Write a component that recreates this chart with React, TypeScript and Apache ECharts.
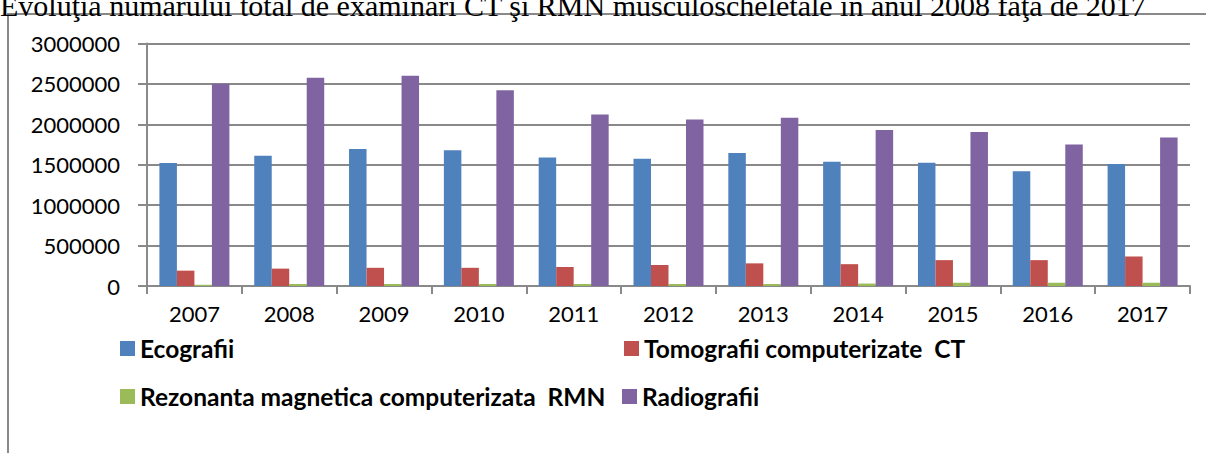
import React, { useEffect, useRef } from "react";
import * as echarts from "echarts";

const years = ["2007", "2008", "2009", "2010", "2011", "2012", "2013", "2014", "2015", "2016", "2017"];
const ecografii = [1520000, 1610000, 1695000, 1680000, 1590000, 1575000, 1645000, 1535000, 1525000, 1420000, 1510000];
const tomografii = [190000, 215000, 225000, 225000, 235000, 260000, 280000, 270000, 320000, 320000, 365000];
const rezonanta = [15000, 25000, 25000, 25000, 25000, 25000, 25000, 30000, 40000, 40000, 40000];
const radiografii = [2500000, 2575000, 2600000, 2420000, 2120000, 2060000, 2080000, 1930000, 1905000, 1750000, 1835000];

const seriesNames = [
  "Ecografii",
  "Tomografii computerizate  CT",
  "Rezonanta magnetica computerizata  RMN",
  "Radiografii",
];
const colors = ["#4F81BD", "#C0504D", "#9BBB59", "#8064A2"];
const titleText =
  "Evoluţia numărului total de examinări CT şi RMN musculoscheletale în anul 2008 faţa de 2017";

export default function App() {
  const ref = useRef<HTMLDivElement>(null);
  useEffect(() => {
    if (!ref.current) return;
    const chart = echarts.init(ref.current, null, { renderer: "svg" });
    const values = [ecografii, tomografii, rezonanta, radiografii];
    const legendPos = [
      { left: 120, top: 336 },
      { left: 624, top: 336 },
      { left: 120, top: 384 },
      { left: 622, top: 384 },
    ];
    chart.setOption({
      animation: false,
      backgroundColor: "#ffffff",
      color: colors,
      textStyle: { fontFamily: "Lato" },
      grid: { left: 147, right: 16, top: 43.4, bottom: 167, containLabel: false },
      legend: seriesNames.map((n, i) => ({
        data: [n],
        left: legendPos[i].left,
        top: legendPos[i].top,
        icon: "rect",
        itemWidth: 15,
        itemHeight: 15,
        itemGap: 6,
        padding: 0,
        textStyle: { fontFamily: "Lato", fontWeight: "bold", fontSize: 24.5, color: "#000" },
        selectedMode: false,
      })),
      graphic: [
        {
          type: "rect",
          shape: { x: 8, y: 14, width: 1400, height: 600 },
          style: { fill: "none", stroke: "#898989", lineWidth: 2 },
          silent: true,
        },
        {
          type: "text",
          x: 0,
          y: 20,
          style: {
            text: titleText,
            font: "30px 'Liberation Serif'",
            fill: "#000",
            verticalAlign: "bottom",
          },
          silent: true,
        },
      ],
      xAxis: {
        type: "category",
        data: years,
        axisLine: { lineStyle: { color: "#898989", width: 2 } },
        axisTick: { show: true, length: 8, lineStyle: { color: "#898989", width: 2 } },
        axisLabel: { fontFamily: "Lato", fontSize: 22, color: "#000", margin: 16 },
      },
      yAxis: {
        type: "value",
        min: 0,
        max: 3000000,
        interval: 500000,
        axisLine: { show: true, lineStyle: { color: "#898989", width: 2 } },
        axisTick: { show: true, length: 9, lineStyle: { color: "#898989", width: 2 } },
        splitLine: { lineStyle: { color: "#898989", width: 2 } },
        axisLabel: {
          fontFamily: "Lato",
          fontSize: 22,
          color: "#000",
          margin: 27,
          formatter: (v: number) => String(v),
        },
      },
      series: seriesNames.map((n, i) => ({
        name: n,
        type: "bar",
        data: values[i],
        barWidth: 17.5,
        barGap: "0%",
        itemStyle: { color: colors[i] },
      })),
    });
    return () => chart.dispose();
  }, []);
  return (
    <div
      ref={ref}
      style={{ position: "absolute", left: 0, top: 0, width: 1206, height: 453 }}
    />
  );
}
